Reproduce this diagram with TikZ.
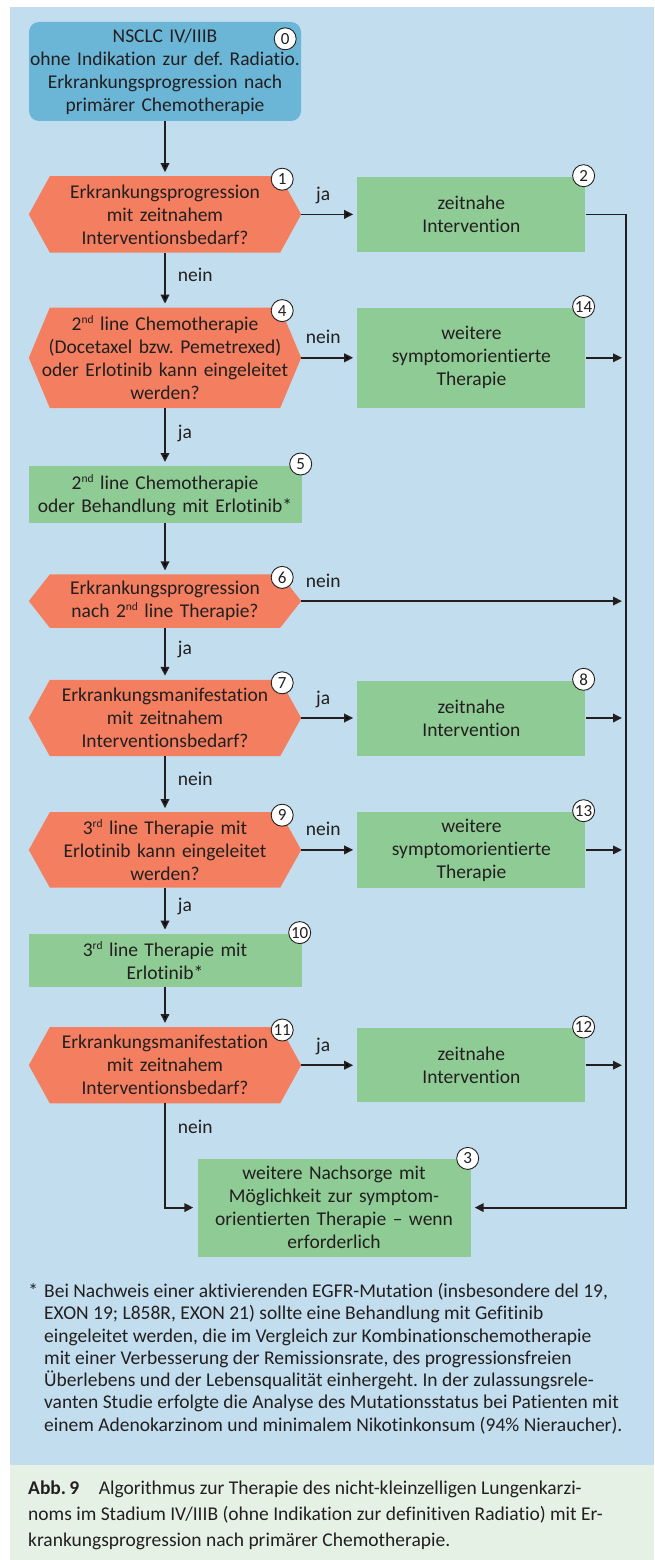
\documentclass[tikz,border=0pt]{standalone}
\usepackage{fontspec}
\setmainfont{Carlito}[Ligatures={TeX,NoCommon}]
\usetikzlibrary{positioning,arrows.meta,backgrounds}

\definecolor{panelblue}{HTML}{C2DEEE}
\definecolor{startblue}{HTML}{6BB6D7}
\definecolor{askorange}{HTML}{F37F60}
\definecolor{actgreen}{HTML}{8FCC95}
\definecolor{capgreen}{HTML}{E6F1E5}
\definecolor{ink}{HTML}{231F20}

\newcommand{\boxfont}{\fontsize{19.5}{23}\selectfont}
\newcommand{\ordsup}[1]{\raisebox{0.75ex}{\fontsize{11.5}{11.5}\selectfont #1}}
% orange question shape behind a question node
\newcommand{\hexfill}[1]{\fill[askorange] ([xshift=21pt]#1.north west) -- ([xshift=-21pt]#1.north east) -- (#1.east) -- ([xshift=-21pt]#1.south east) -- ([xshift=21pt]#1.south west) -- (#1.west) -- cycle;}

\begin{document}
\frenchspacing
\begin{tikzpicture}[x=1pt, y=1pt,
  every node/.style={font=\boxfont, text=ink},
  start node/.style={fill=startblue, rounded corners=10pt, text width=272pt, align=center, inner xsep=0pt, inner ysep=0pt, minimum height=99pt},
  ask node/.style={text width=272pt, align=center, inner xsep=0pt, inner ysep=0pt},
  act node/.style={fill=actgreen, text width=273pt, align=center, inner xsep=0pt, inner ysep=0pt},
  side node/.style={act node, text width=228pt},
  num/.style={circle, draw=ink, line width=0.9pt, fill=white, minimum size=22pt, inner sep=0pt, font=\fontsize{17}{17}\selectfont},
  arr/.style={draw=ink, line width=1.8pt, -{Triangle[length=9pt,width=8.5pt]}, shorten >=4pt},
  hlbl/.style={pos=0, anchor=base, xshift=22pt, yshift=14pt, inner sep=0pt},
  vlbl/.style={anchor=base west, xshift=12pt, yshift=-1pt, inner sep=0pt}]
  \useasboundingbox (0,0) rectangle (654,-1560);

  \node[start node] (n0) at (165,-71.5) {NSCLC IV/IIIB\\\mbox{ohne Indikation zur def. Radiatio.}\\Erkrankungsprogression nach\\primärer Chemotherapie};
  \node[ask node, minimum height=76pt, below=55pt of n0] (n1) {Erkrankungsprogression\\mit zeitnahem\\Interventionsbedarf?};
  \node[side node, minimum height=75pt, right=56pt of n1] (n2) {zeitnahe\\Intervention};
  \node[ask node, minimum height=100pt, below=55pt of n1] (n4) {2\ordsup{nd} line Chemotherapie\\(Docetaxel bzw. Pemetrexed)\\oder Erlotinib kann eingeleitet\\werden?};
  \node[side node, minimum height=100pt, right=56pt of n4] (n14) {weitere\\symptomorientierte\\Therapie};
  \node[act node, minimum height=57pt, below=58pt of n4] (n5) {2\ordsup{nd} line Chemotherapie\\oder Behandlung mit Erlotinib*};
  \node[ask node, minimum height=53pt, below=51pt of n5] (n6) {Erkrankungsprogression\\nach 2\ordsup{nd} line Therapie?};
  \node[ask node, minimum height=76pt, below=52pt of n6] (n7) {Erkrankungsmanifestation\\mit zeitnahem\\Interventionsbedarf?};
  \node[side node, minimum height=75pt, right=56pt of n7] (n8) {zeitnahe\\Intervention};
  \node[ask node, minimum height=75pt, below=56pt of n7] (n9) {3\ordsup{rd} line Therapie mit\\Erlotinib kann eingeleitet\\werden?};
  \node[side node, minimum height=76pt, right=56pt of n9] (n13) {weitere\\symptomorientierte\\Therapie};
  \node[act node, minimum height=53pt, below=46pt of n9] (n10) {3\ordsup{rd} line Therapie mit\\Erlotinib*};
  \node[ask node, minimum height=76pt, below=40pt of n10] (n11) {Erkrankungsmanifestation\\mit zeitnahem\\Interventionsbedarf?};
  \node[side node, minimum height=74pt, right=56pt of n11] (n12) {zeitnahe\\Intervention};
  \node[act node, minimum height=98pt, below=55pt of n11, xshift=169pt] (n3) {weitere Nachsorge mit\\Möglichkeit zur symptom-\\orientierten Therapie -- wenn\\erforderlich};

  % step numbers
  \node[num] (c0) at ([shift={(-16,-17)}]n0.north east) {0};
  \node[num] (c1) at ([shift={(-19,-3)}]n1.north east) {1};
  \node[num] (c2) at ([shift={(-2,1)}]n2.north east) {2};
  \node[num] (c4) at ([shift={(-19,-3)}]n4.north east) {4};
  \node[num] (c14) at ([shift={(-2,1)}]n14.north east) {14};
  \node[num] (c5) at ([shift={(-1,2)}]n5.north east) {5};
  \node[num] (c6) at ([shift={(-19,-3)}]n6.north east) {6};
  \node[num] (c7) at ([shift={(-19,-3)}]n7.north east) {7};
  \node[num] (c8) at ([shift={(-2,1)}]n8.north east) {8};
  \node[num] (c9) at ([shift={(-19,-3)}]n9.north east) {9};
  \node[num] (c13) at ([shift={(-2,1)}]n13.north east) {13};
  \node[num] (c10) at ([shift={(-2,1)}]n10.north east) {10};
  \node[num] (c11) at ([shift={(-19,-3)}]n11.north east) {11};
  \node[num] (c12) at ([shift={(-2,1)}]n12.north east) {12};
  \node[num] (c3) at ([shift={(-3,0)}]n3.north east) {3};

  \coordinate (bus) at (626,0);

  \path[arr]
    (n0) edge (n1)
    (n1) edge node[vlbl] {nein} (n4)
         edge node[hlbl] {ja} (n2)
    (n4) edge node[vlbl] {ja} (n5)
         edge node[hlbl] {nein} (n14)
    (n5) edge (n6)
    (n6) edge node[vlbl] {ja} (n7)
    (n7) edge node[hlbl] {ja} (n8)
         edge node[vlbl] {nein} (n9)
    (n9) edge node[hlbl] {nein} (n13)
         edge node[vlbl] {ja} (n10)
    (n10) edge (n11)
    (n11) edge node[hlbl] {ja} (n12);

  \draw[arr] (n2.east) -- (n2.east -| bus) |- (n3.east);
  \draw[arr] (n14.east) -- (n14.east -| bus);
  \draw[arr] (n6.east) -- node[hlbl] {nein} (n6.east -| bus);
  \draw[arr] (n8.east) -- (n8.east -| bus);
  \draw[arr] (n13.east) -- (n13.east -| bus);
  \draw[arr] (n12.east) -- (n12.east -| bus);
  \draw[arr] (n11.south) |- node[vlbl, pos=0.14] {nein} (n3.west);

  \node[anchor=north west, align=left, inner sep=0pt, font=\fontsize{19.5}{22.3}\selectfont] (foot) at (44,-1283)
    {\llap{*\hspace{6pt}}Bei Nachweis einer aktivierenden EGFR-Mutation (insbesondere del 19,\\
     EXON 19; L858R, EXON 21) sollte eine Behandlung mit Gefitinib\\
     eingeleitet werden, die im Vergleich zur Kombinationschemotherapie\\
     mit einer Verbesserung der Remissionsrate, des progressionsfreien\\
     Überlebens und der Lebensqualität einhergeht. In der zulassungsrele-\\
     vanten Studie erfolgte die Analyse des Mutationsstatus bei Patienten mit\\
     einem Adenokarzinom und minimalem Nikotinkonsum (94\% Nieraucher).};
  \node[anchor=north west, align=left, inner sep=0pt, font=\fontsize{19.5}{26}\selectfont] (cap) at (28,-1481)
    {\textbf{Abb.\,9}\quad Algorithmus zur Therapie des nicht-kleinzelligen Lungenkarzi-\\
     noms im Stadium IV/IIIB (ohne Indikation zur definitiven Radiatio) mit Er-\\
     krankungsprogression nach primärer Chemotherapie.};

  \begin{scope}[on background layer]
    \fill[panelblue] (10,-7) rectangle (654,-1465);
    \fill[capgreen] (10,-1465) rectangle (654,-1560);
    \foreach \n in {n1,n4,n6,n7,n9,n11} {\hexfill{\n}}
  \end{scope}
\end{tikzpicture}
\end{document}
